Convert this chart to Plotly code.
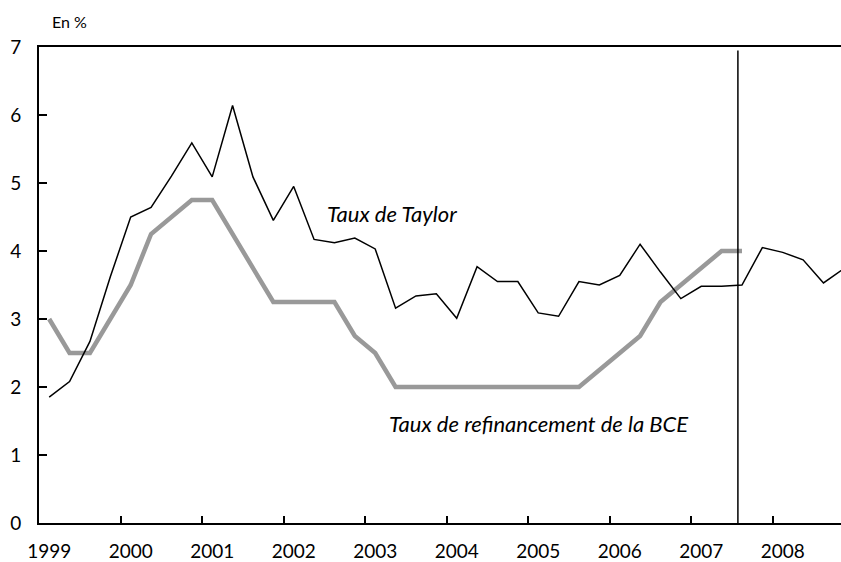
import plotly.graph_objects as go

years = ["1999", "2000", "2001", "2002", "2003", "2004", "2005", "2006", "2007", "2008"]
quarters = [f"{y}T{q}" for y in years for q in range(1, 5)]

taux_taylor = [1.85, 2.08, 2.67, 3.62, 4.50, 4.64, 5.10, 5.59,
               5.09, 6.14, 5.09, 4.45, 4.95, 4.17, 4.12, 4.19,
               4.03, 3.16, 3.34, 3.37, 3.01, 3.77, 3.55, 3.55,
               3.09, 3.04, 3.55, 3.50, 3.64, 4.10, 3.69, 3.30,
               3.48, 3.48, 3.50, 4.05, 3.98, 3.87, 3.53, 3.74]

taux_bce = [3.00, 2.50, 2.50, 3.00, 3.50, 4.25, 4.50, 4.75,
            4.75, 4.25, 3.75, 3.25, 3.25, 3.25, 3.25, 2.75,
            2.50, 2.00, 2.00, 2.00, 2.00, 2.00, 2.00, 2.00,
            2.00, 2.00, 2.00, 2.25, 2.50, 2.75, 3.25, 3.50,
            3.75, 4.00, 4.00]

y_ticks = [0, 1, 2, 3, 4, 5, 6, 7]

idx_t = list(range(len(taux_taylor)))
idx_b = list(range(len(taux_bce)))
year_pos = [4 * i for i in range(len(years))]
bound_pos = [4 * i - 0.5 for i in range(1, len(years))]

FONT = "Lato, 'Open Sans', sans-serif"

fig = go.Figure()
fig.add_trace(go.Scatter(x=idx_b, y=taux_bce, mode="lines", name="Taux de refinancement de la BCE",
                         line=dict(color="#999999", width=4.5), hoverinfo="skip"))
fig.add_trace(go.Scatter(x=idx_t, y=taux_taylor, mode="lines", name="Taux de Taylor",
                         line=dict(color="black", width=1.5), hoverinfo="skip"))
# invisible trace to carry the year labels axis
fig.add_trace(go.Scatter(x=[year_pos[0]], y=[None], xaxis="x2", showlegend=False, hoverinfo="skip"))

xr = [-0.5, 38.86]
fig.update_layout(
    template="none",
    width=841, height=562,
    margin=dict(l=39, r=0, t=47, b=39, pad=0, autoexpand=False),
    paper_bgcolor="white", plot_bgcolor="white",
    showlegend=False,
    font=dict(family=FONT, size=19, color="black"),
    xaxis=dict(range=xr, tickmode="array", tickvals=bound_pos, showticklabels=False,
               ticks="inside", ticklen=7, tickwidth=1.5, tickcolor="black",
               showline=True, linecolor="black", linewidth=2, mirror=True,
               showgrid=False, zeroline=False, automargin=False),
    xaxis2=dict(range=xr, overlaying="x", side="bottom", tickmode="array",
                tickvals=year_pos, ticktext=years, ticks="", showline=False,
                showgrid=False, zeroline=False, ticklabelstandoff=15, automargin=False,
                tickfont=dict(family=FONT, size=19, color="black")),
    yaxis=dict(range=[0, 7], tickmode="array", tickvals=y_ticks, ticks="inside", ticklen=8,
               tickwidth=1.5, tickcolor="black", showline=True, linecolor="black", linewidth=2,
               mirror=False, showgrid=False, zeroline=False, ticklabelstandoff=12, automargin=False,
               tickfont=dict(family=FONT, size=19, color="black")),
)

fig.add_shape(type="line", xref="x", yref="y", x0=33.8, x1=33.8, y0=0, y1=6.95,
              line=dict(color="black", width=1.5))

fig.add_annotation(x=16.8, y=4.55, xref="x", yref="y", text="<i>Taux de Taylor</i>",
                   showarrow=False, font=dict(family=FONT, size=22, color="black"))
fig.add_annotation(x=24.0, y=1.47, xref="x", yref="y", text="<i>Taux de refinancement de la BCE</i>",
                   showarrow=False, font=dict(family=FONT, size=22, color="black"))
fig.add_annotation(xref="paper", yref="paper", x=(50 - 39) / 802, y=1 + (47 - 22) / 476,
                   xanchor="left", yanchor="middle", text="En %", showarrow=False,
                   font=dict(family=FONT, size=16, color="black"))

fig.write_html("out.html", config={"displayModeBar": False},
               post_script="document.body.style.margin='0px';document.body.style.overflow='hidden';")
